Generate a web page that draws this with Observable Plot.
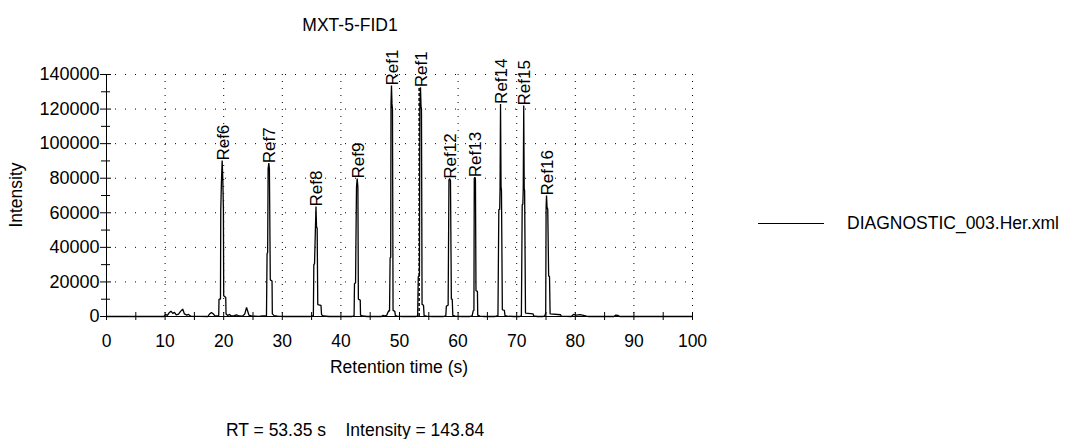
<!DOCTYPE html>
<html>
<head>
<meta charset="utf-8">
<script src="https://cdn.jsdelivr.net/npm/d3@7"></script>
<script src="https://cdn.jsdelivr.net/npm/@observablehq/plot@0.6"></script>
<style>
  html, body { margin: 0; padding: 0; background: #fff; }
  #wrap { position: relative; width: 1067px; height: 439px; overflow: hidden; font-family: "Liberation Sans", Arial, sans-serif; font-size: 17.5px; color: #000; }
  .t { position: absolute; line-height: 17.5px; white-space: pre; }
</style>
</head>
<body>
<div id="wrap"></div>
<script>
// ---- data ----
const chartTitle = "MXT-5-FID1";
const xLabel = "Retention time (s)";
const yLabel = "Intensity";
const seriesName = "DIAGNOSTIC_003.Her.xml";
const caption = "RT = 53.35 s    Intensity = 143.84";
const cursorRT = 53.35;

const xTickLabels = [0, 10, 20, 30, 40, 50, 60, 70, 80, 90, 100];
const xMinorTicks = [5, 15, 25, 35, 45, 55, 65, 75, 85, 95];
const xGrid = [10, 20, 30, 40, 50, 60, 70, 80, 90, 100];
const yTickLabels = [0, 20000, 40000, 60000, 80000, 100000, 120000, 140000];
const yMinorTicks = [10000, 30000, 50000, 70000, 90000, 110000, 130000];
const yGrid = [20000, 40000, 60000, 80000, 100000, 120000, 140000];

const peakNames   = ["Ref6", "Ref7", "Ref8", "Ref9", "Ref1", "Ref1", "Ref12", "Ref13", "Ref14", "Ref15", "Ref16"];
const peakTimes   = [19.74, 27.7, 35.75, 42.78, 48.63, 53.58, 58.58, 62.85, 67.24, 71.2, 75.09];
const peakHeights = [90200, 88700, 63600, 79800, 133600, 132600, 79700, 80600, 123000, 122100, 70000];

const traceTime = [
  0, 9.8, 10.1, 10.4, 10.7, 11.0, 11.3, 11.6, 11.9, 12.3, 12.6, 13.0, 13.3, 13.7, 14.0, 14.4,
  17.3, 17.6, 17.9, 18.2, 18.5, 19.0,
  19.15, 19.2, 19.45, 19.5, 19.62, 19.74, 19.85, 19.95, 20.0, 20.35, 20.4, 20.7,
  21.0, 21.3, 21.8, 22.2, 22.6, 23.2, 23.6, 23.9, 24.1, 24.3, 24.8, 26.0, 26.6, 27.0,
  27.3, 27.4, 27.5, 27.58, 27.7, 27.8, 27.95, 28.25, 28.3, 28.6,
  29.2, 30.5, 34.8, 35.1,
  35.3, 35.38, 35.5, 35.66, 35.75, 35.84, 35.95, 36.05, 36.6, 36.7, 37.0,
  38.0, 41.9, 42.1,
  42.25, 42.32, 42.5, 42.66, 42.78, 42.9, 42.98, 43.3, 43.35, 43.7,
  44.5, 46.9, 47.2, 47.5, 47.8,
  48.17, 48.3, 48.4, 48.5, 48.55, 48.63, 48.72, 48.8, 48.9, 49.2, 49.3, 49.6,
  50.5, 52.8, 53.0,
  53.1, 53.2, 53.4, 53.48, 53.58, 53.68, 53.75, 53.85, 54.1, 54.2, 54.6,
  55.5, 57.5, 57.8,
  57.9, 58.0, 58.3, 58.44, 58.58, 58.7, 58.85, 59.0, 59.1, 59.5,
  60.5, 62.0, 62.3,
  62.4, 62.57, 62.7, 62.76, 62.85, 62.96, 63.05, 63.3, 63.35, 63.7,
  64.5, 66.3, 66.6,
  66.8, 66.95, 67.1, 67.16, 67.24, 67.33, 67.4, 67.55, 67.9, 68.0, 68.4,
  69.5, 70.5, 70.7,
  70.8, 70.94, 71.05, 71.12, 71.2, 71.28, 71.35, 71.5, 72.8, 72.9,
  73.5, 74.5, 74.7,
  74.8, 74.95, 75.02, 75.09, 75.18, 75.3, 75.45, 75.6, 75.7, 77.5, 77.6,
  79.3, 79.7, 80.2, 80.8, 81.4, 81.9, 82.3, 86.6, 86.9, 87.3, 87.6, 100
];
const traceIntensity = [
  0, 0, 1200, 600, 2200, 3100, 1800, 2400, 1000, 1400, 2800, 4300, 1500, 800, 1200, 200,
  0, 1500, 2300, 1600, 400, 300,
  500, 10000, 10000, 62000, 78700, 90200, 78700, 62000, 12000, 11000, 1500, 600,
  1200, 300, 500, 1000, 300, 200, 1500, 5200, 3000, 800, 200, 100, 400, 300,
  500, 36300, 37000, 85400, 88700, 85400, 21200, 20500, 1500, 500,
  200, 0, 0, 400,
  400, 30000, 30500, 52100, 63600, 52100, 51000, 6900, 6500, 1000, 300,
  0, 0, 300,
  300, 19000, 19500, 74800, 79800, 74800, 10000, 9500, 800, 300,
  0, 0, 700, 300, 600,
  3500, 3000, 34200, 34000, 123000, 133600, 123000, 120000, 3500, 3000, 500, 200,
  0, 0, 300,
  400, 23000, 23500, 121100, 132600, 121100, 120000, 7000, 6500, 500, 200,
  0, 0, 300,
  300, 6000, 6500, 79000, 79700, 78500, 10000, 10000, 600, 200,
  0, 0, 300,
  300, 3300, 3500, 80000, 80600, 79000, 14900, 14500, 800, 200,
  0, 0, 400,
  400, 61800, 62000, 74800, 123000, 74800, 73000, 3900, 3500, 500, 200,
  0, 0, 300,
  300, 64700, 65000, 74000, 122100, 74000, 73000, 2000, 1500, 300,
  0, 0, 300,
  300, 2000, 63200, 70000, 63200, 62000, 23600, 23000, 1500, 1000, 200,
  0, 1200, 800, 1100, 700, 200, 0, 0, 800, 600, 0, 0
];

// ---- tables built from arrays ----
const trace = traceTime.map((t, i) => ({t, v: traceIntensity[i]}));
const peaks = peakNames.map((name, i) => ({name, time: peakTimes[i], height: peakHeights[i]}));

const W = 1067, H = 439;
const fontFamily = '"Liberation Sans", Arial, sans-serif';

const chart = Plot.plot({
  width: W,
  height: H,
  marginLeft: 106,
  marginRight: 375,
  marginTop: 74,
  marginBottom: 123,
  style: {fontFamily, fontSize: "17.5px", color: "#000", background: "#fff", overflow: "visible"},
  x: {domain: [0, 100], axis: null},
  y: {domain: [0, 140000], axis: null},
  marks: [
    Plot.gridY(yGrid, {stroke: "#000", strokeOpacity: 1, strokeDasharray: "1,9", strokeDashoffset: -9}),
    Plot.gridX(xGrid, {stroke: "#000", strokeOpacity: 1, strokeDasharray: "1,6"}),
    Plot.ruleY([0], {stroke: "#000"}),
    Plot.ruleX([0], {stroke: "#000"}),
    Plot.axisY(yTickLabels, {anchor: "left", tickSize: 11, dx: 5, tickPadding: 1, tickFormat: d3.format("d"), label: null, fontSize: 18}),
    Plot.axisY(yMinorTicks, {anchor: "left", tickSize: 9, dx: 4, tickFormat: () => "", label: null}),
    Plot.axisX(xTickLabels, {anchor: "bottom", tickSize: 8, dy: -4, tickPadding: 14, tickFormat: d => String(d), label: null, fontSize: 17.5}),
    Plot.axisX(xMinorTicks, {anchor: "bottom", tickSize: 8, dy: -4, tickFormat: () => "", label: null}),
    Plot.line(trace, {x: "t", y: "v", stroke: "#000", strokeWidth: 1.3, strokeLinejoin: "miter"}),
    Plot.ruleX([cursorRT], {y1: 0, y2: peakHeights[5], stroke: "#000", strokeWidth: 1.5, strokeDasharray: "3,2"}),
    Plot.text(peaks, {x: "time", y: "height", text: "name", rotate: -90, textAnchor: "start", dx: 1, dy: 0, fontSize: 17, fill: "#000"})
  ]
});

const wrap = document.getElementById("wrap");
wrap.appendChild(chart);

function addText(txt, css) {
  const d = document.createElement("div");
  d.className = "t";
  d.textContent = txt;
  Object.assign(d.style, css);
  wrap.appendChild(d);
  return d;
}
addText(chartTitle, {left: "350px", top: "17px", transform: "translateX(-50%)"});
addText(xLabel, {left: "399px", top: "359px", transform: "translateX(-50%)"});
addText(yLabel, {left: "17px", top: "195px", transform: "translate(-50%,-50%) rotate(-90deg)"});
addText(seriesName, {left: "847px", top: "215px"});
addText(caption, {left: "226px", top: "422px"});
const legLine = document.createElement("div");
Object.assign(legLine.style, {position: "absolute", left: "758px", top: "223px", width: "66px", height: "1px", background: "#000"});
wrap.appendChild(legLine);
</script>
</body>
</html>
